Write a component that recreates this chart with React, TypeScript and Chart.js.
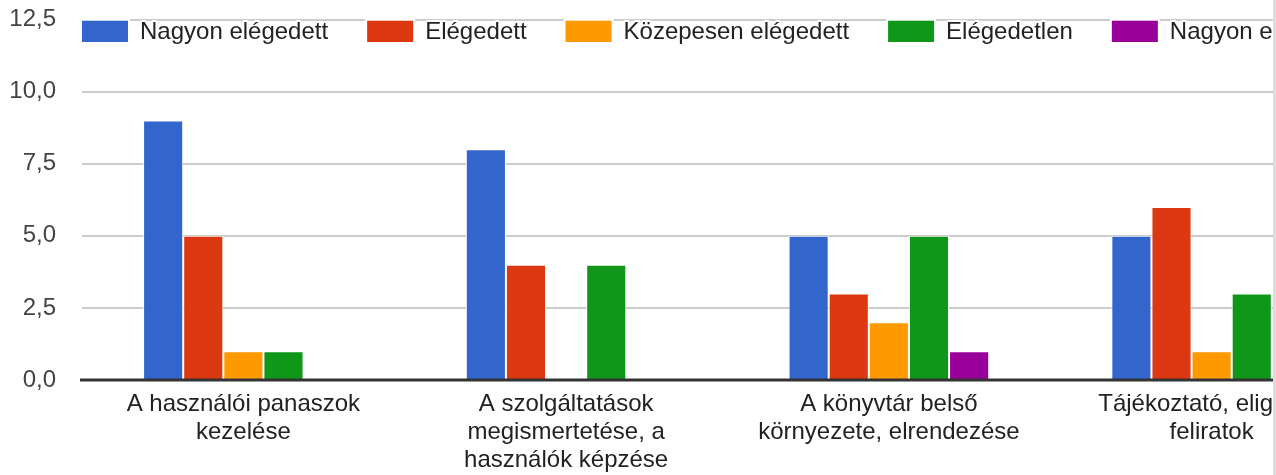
import { useEffect, useRef } from "react";
import { Chart, registerables } from "chart.js";

Chart.register(...registerables);

const categories: string[][] = [
  ["A használói panaszok", "kezelése"],
  ["A szolgáltatások", "megismertetése, a", "használók képzése"],
  ["A könyvtár belső", "környezete, elrendezése"],
  ["Tájékoztató, eligazító", "feliratok"],
];

const seriesNames = [
  "Nagyon elégedett",
  "Elégedett",
  "Közepesen elégedett",
  "Elégedetlen",
  "Nagyon elégedetlen",
];

const nagyonElegedett = [9, 8, 5, 5];
const elegedett = [5, 4, 3, 6];
const kozepesenElegedett = [1, 0, 2, 1];
const elegedetlen = [1, 4, 5, 3];
const nagyonElegedetlen = [0, 0, 1, 0];

const seriesColors = ["#3366cc", "#dc3912", "#ff9900", "#109618", "#990099"];

const yMin = 0;
const yMax = 12.5;
const yStep = 2.5;

const FONT_FAMILY = '"Liberation Sans", Arial, sans-serif';
const FONT_SIZE = 24;

const legendPlugin = {
  id: "customLegend",
  afterDraw(chart: any) {
    const ctx = chart.ctx as CanvasRenderingContext2D;
    ctx.save();
    ctx.font = `${FONT_SIZE}px ${FONT_FAMILY}`;
    let x = 82;
    const by = 20.7;
    const bw = 46;
    const bh = 21.3;
    chart.data.datasets.forEach((ds: any) => {
      ctx.fillStyle = "#ffffff";
      ctx.fillRect(x - 2, by - 3, bw + 4, bh + 5);
      ctx.fillStyle = ds.backgroundColor;
      ctx.fillRect(x, by, bw, bh);
      const tx = x + bw + 12;
      ctx.textBaseline = "alphabetic";
      ctx.textAlign = "left";
      ctx.lineJoin = "round";
      ctx.lineWidth = 4;
      ctx.strokeStyle = "#ffffff";
      ctx.strokeText(ds.label, tx, 39.3);
      ctx.fillStyle = "#222222";
      ctx.fillText(ds.label, tx, 39.3);
      x = tx + ctx.measureText(ds.label).width + 39;
    });
    ctx.restore();
  },
};

const baselinePlugin = {
  id: "baseline",
  afterDatasetsDraw(chart: any) {
    const ctx = chart.ctx as CanvasRenderingContext2D;
    const y = chart.scales.y.getPixelForValue(0);
    ctx.save();
    ctx.strokeStyle = "#333333";
    ctx.lineWidth = 3;
    ctx.beginPath();
    ctx.moveTo(80, y);
    ctx.lineTo(chart.width, y);
    ctx.stroke();
    ctx.restore();
  },
};

export default function App() {
  const canvasRef = useRef<HTMLCanvasElement | null>(null);

  useEffect(() => {
    if (!canvasRef.current) return;
    const values = [
      nagyonElegedett,
      elegedett,
      kozepesenElegedett,
      elegedetlen,
      nagyonElegedetlen,
    ];
    const chart = new Chart(canvasRef.current, {
      type: "bar",
      data: {
        labels: categories,
        datasets: seriesNames.map((name, i) => ({
          label: name,
          data: values[i],
          backgroundColor: seriesColors[i],
          borderColor: "#ffffff",
          borderWidth: 1,
          categoryPercentage: 0.6215,
          barPercentage: 1,
        })),
      },
      options: {
        responsive: false,
        animation: false,
        events: [],
        layout: { padding: { top: 0, right: 7, left: 0, bottom: 0 } },
        plugins: {
          legend: { display: false },
          tooltip: { enabled: false },
          title: { display: false },
        },
        scales: {
          x: {
            grid: { display: false, drawTicks: false },
            border: { display: false },
            ticks: {
              autoSkip: false,
              maxRotation: 0,
              minRotation: 0,
              padding: 10,
              color: "#222222",
              font: { family: FONT_FAMILY, size: FONT_SIZE, lineHeight: 1.18 },
            },
            afterFit: (s: any) => {
              s.height = 95;
            },
          },
          y: {
            min: yMin,
            max: yMax,
            grid: { color: "#cccccc", lineWidth: 2, drawTicks: false },
            border: { display: false },
            ticks: {
              stepSize: yStep,
              padding: 26,
              color: "#444444",
              font: { family: FONT_FAMILY, size: FONT_SIZE },
              callback: (v: any) => Number(v).toFixed(1).replace(".", ","),
            },
            afterFit: (s: any) => {
              s.width = 82;
              s.paddingTop = 19.5;
              s.paddingBottom = 0;
            },
          },
        },
      },
      plugins: [baselinePlugin, legendPlugin],
    });
    return () => chart.destroy();
  }, []);

  return (
    <div
      style={{
        position: "fixed",
        left: 0,
        top: 0,
        width: 1276,
        height: 475,
        overflow: "hidden",
        background: "#ffffff",
      }}
    >
      <canvas
        ref={canvasRef}
        width={1380}
        height={475}
        style={{ display: "block", position: "absolute", left: 0, top: 0 }}
      />
      <div
        style={{
          position: "absolute",
          left: 1273,
          top: 0,
          width: 3,
          height: 475,
          background: "#dddddd",
        }}
      />
    </div>
  );
}
